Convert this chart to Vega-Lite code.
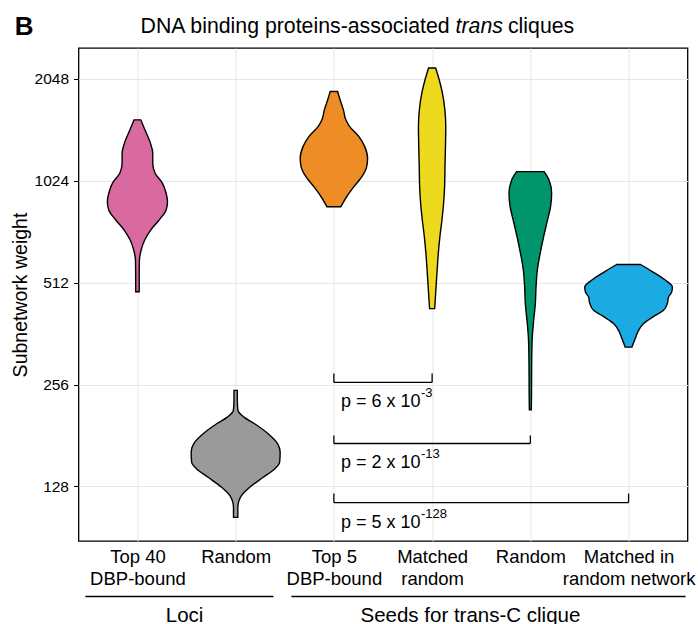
{
  "$schema": "https://vega.github.io/schema/vega-lite/v6.json",
  "padding": {"left": 8.5, "top": 12, "right": 0, "bottom": 0},
  "config": {
    "font": "Liberation Sans",
    "view": {"stroke": null},
    "axis": {"labelFont": "Liberation Sans", "titleFont": "Liberation Sans", "labelColor": "black", "titleColor": "black", "gridColor": "#E6E6E6", "gridWidth": 1}
  },
  "datasets": {
    "violins": [
      {"category": "Loci: Top 40 DBP-bound", "weight": 1549, "halfwidth": 0.034},
      {"category": "Loci: Top 40 DBP-bound", "weight": 1447, "halfwidth": 0.076},
      {"category": "Loci: Top 40 DBP-bound", "weight": 1322, "halfwidth": 0.132},
      {"category": "Loci: Top 40 DBP-bound", "weight": 1234, "halfwidth": 0.156},
      {"category": "Loci: Top 40 DBP-bound", "weight": 1153, "halfwidth": 0.156},
      {"category": "Loci: Top 40 DBP-bound", "weight": 1077, "halfwidth": 0.18},
      {"category": "Loci: Top 40 DBP-bound", "weight": 1006, "halfwidth": 0.255},
      {"category": "Loci: Top 40 DBP-bound", "weight": 940, "halfwidth": 0.292},
      {"category": "Loci: Top 40 DBP-bound", "weight": 888, "halfwidth": 0.306},
      {"category": "Loci: Top 40 DBP-bound", "weight": 839, "halfwidth": 0.292},
      {"category": "Loci: Top 40 DBP-bound", "weight": 784, "halfwidth": 0.221},
      {"category": "Loci: Top 40 DBP-bound", "weight": 732, "halfwidth": 0.135},
      {"category": "Loci: Top 40 DBP-bound", "weight": 684, "halfwidth": 0.074},
      {"category": "Loci: Top 40 DBP-bound", "weight": 639, "halfwidth": 0.038},
      {"category": "Loci: Top 40 DBP-bound", "weight": 597, "halfwidth": 0.02},
      {"category": "Loci: Top 40 DBP-bound", "weight": 532, "halfwidth": 0.018},
      {"category": "Loci: Top 40 DBP-bound", "weight": 481, "halfwidth": 0.018},

      {"category": "Loci: Random", "weight": 245.9, "halfwidth": 0.017},
      {"category": "Loci: Random", "weight": 229.8, "halfwidth": 0.017},
      {"category": "Loci: Random", "weight": 214.6, "halfwidth": 0.023},
      {"category": "Loci: Random", "weight": 205, "halfwidth": 0.085},
      {"category": "Loci: Random", "weight": 196, "halfwidth": 0.193},
      {"category": "Loci: Random", "weight": 183.1, "halfwidth": 0.331},
      {"category": "Loci: Random", "weight": 171, "halfwidth": 0.428},
      {"category": "Loci: Random", "weight": 161.6, "halfwidth": 0.453},
      {"category": "Loci: Random", "weight": 150.9, "halfwidth": 0.448},
      {"category": "Loci: Random", "weight": 144.2, "halfwidth": 0.397},
      {"category": "Loci: Random", "weight": 136.2, "halfwidth": 0.28},
      {"category": "Loci: Random", "weight": 127.2, "halfwidth": 0.143},
      {"category": "Loci: Random", "weight": 120.2, "halfwidth": 0.059},
      {"category": "Loci: Random", "weight": 116.2, "halfwidth": 0.034},
      {"category": "Loci: Random", "weight": 111, "halfwidth": 0.022},
      {"category": "Loci: Random", "weight": 103.7, "halfwidth": 0.022},

      {"category": "Seeds: Top 5 DBP-bound", "weight": 1878, "halfwidth": 0.038},
      {"category": "Seeds: Top 5 DBP-bound", "weight": 1775, "halfwidth": 0.063},
      {"category": "Seeds: Top 5 DBP-bound", "weight": 1658, "halfwidth": 0.097},
      {"category": "Seeds: Top 5 DBP-bound", "weight": 1549, "halfwidth": 0.122},
      {"category": "Seeds: Top 5 DBP-bound", "weight": 1479, "halfwidth": 0.161},
      {"category": "Seeds: Top 5 DBP-bound", "weight": 1382, "halfwidth": 0.255},
      {"category": "Seeds: Top 5 DBP-bound", "weight": 1291, "halfwidth": 0.314},
      {"category": "Seeds: Top 5 DBP-bound", "weight": 1193, "halfwidth": 0.343},
      {"category": "Seeds: Top 5 DBP-bound", "weight": 1127, "halfwidth": 0.334},
      {"category": "Seeds: Top 5 DBP-bound", "weight": 1052, "halfwidth": 0.285},
      {"category": "Seeds: Top 5 DBP-bound", "weight": 983, "halfwidth": 0.204},
      {"category": "Seeds: Top 5 DBP-bound", "weight": 918, "halfwidth": 0.13},
      {"category": "Seeds: Top 5 DBP-bound", "weight": 858, "halfwidth": 0.071},

      {"category": "Seeds: Matched random", "weight": 2203, "halfwidth": 0.036},
      {"category": "Seeds: Matched random", "weight": 2034, "halfwidth": 0.072},
      {"category": "Seeds: Matched random", "weight": 1858, "halfwidth": 0.105},
      {"category": "Seeds: Matched random", "weight": 1658, "halfwidth": 0.13},
      {"category": "Seeds: Matched random", "weight": 1479, "halfwidth": 0.139},
      {"category": "Seeds: Matched random", "weight": 1291, "halfwidth": 0.136},
      {"category": "Seeds: Matched random", "weight": 1127, "halfwidth": 0.131},
      {"category": "Seeds: Matched random", "weight": 983, "halfwidth": 0.127},
      {"category": "Seeds: Matched random", "weight": 878, "halfwidth": 0.117},
      {"category": "Seeds: Matched random", "weight": 784, "halfwidth": 0.1},
      {"category": "Seeds: Matched random", "weight": 699, "halfwidth": 0.079},
      {"category": "Seeds: Matched random", "weight": 624, "halfwidth": 0.063},
      {"category": "Seeds: Matched random", "weight": 557, "halfwidth": 0.051},
      {"category": "Seeds: Matched random", "weight": 486, "halfwidth": 0.038},
      {"category": "Seeds: Matched random", "weight": 429, "halfwidth": 0.026},

      {"category": "Seeds: Random", "weight": 1089, "halfwidth": 0.14},
      {"category": "Seeds: Random", "weight": 1029, "halfwidth": 0.19},
      {"category": "Seeds: Random", "weight": 940, "halfwidth": 0.217},
      {"category": "Seeds: Random", "weight": 858, "halfwidth": 0.206},
      {"category": "Seeds: Random", "weight": 784, "halfwidth": 0.175},
      {"category": "Seeds: Random", "weight": 699, "halfwidth": 0.135},
      {"category": "Seeds: Random", "weight": 624, "halfwidth": 0.1},
      {"category": "Seeds: Random", "weight": 557, "halfwidth": 0.071},
      {"category": "Seeds: Random", "weight": 497, "halfwidth": 0.058},
      {"category": "Seeds: Random", "weight": 444, "halfwidth": 0.051},
      {"category": "Seeds: Random", "weight": 396, "halfwidth": 0.034},
      {"category": "Seeds: Random", "weight": 354, "halfwidth": 0.02},
      {"category": "Seeds: Random", "weight": 316, "halfwidth": 0.015},
      {"category": "Seeds: Random", "weight": 276, "halfwidth": 0.013},
      {"category": "Seeds: Random", "weight": 240, "halfwidth": 0.012},
      {"category": "Seeds: Random", "weight": 215.6, "halfwidth": 0.01},

      {"category": "Seeds: Matched in random network", "weight": 579, "halfwidth": 0.122},
      {"category": "Seeds: Matched in random network", "weight": 551, "halfwidth": 0.246},
      {"category": "Seeds: Matched in random network", "weight": 520, "halfwidth": 0.377},
      {"category": "Seeds: Matched in random network", "weight": 497, "halfwidth": 0.446},
      {"category": "Seeds: Matched in random network", "weight": 481, "halfwidth": 0.44},
      {"category": "Seeds: Matched in random network", "weight": 464, "halfwidth": 0.407},
      {"category": "Seeds: Matched in random network", "weight": 444, "halfwidth": 0.395},
      {"category": "Seeds: Matched in random network", "weight": 424, "halfwidth": 0.356},
      {"category": "Seeds: Matched in random network", "weight": 405, "halfwidth": 0.246},
      {"category": "Seeds: Matched in random network", "weight": 387.5, "halfwidth": 0.153},
      {"category": "Seeds: Matched in random network", "weight": 370, "halfwidth": 0.102},
      {"category": "Seeds: Matched in random network", "weight": 350, "halfwidth": 0.068},
      {"category": "Seeds: Matched in random network", "weight": 330, "halfwidth": 0.034}
    ],
    "brackets": [
      {"from": "Seeds: Top 5 DBP-bound", "to": "Seeds: Matched random", "y": 259.7, "ytop": 276, "base": "p = 6 x 10", "exp": "-3"},
      {"from": "Seeds: Top 5 DBP-bound", "to": "Seeds: Random", "y": 171.4, "ytop": 181, "base": "p = 2 x 10", "exp": "-13"},
      {"from": "Seeds: Top 5 DBP-bound", "to": "Seeds: Matched in random network", "y": 114.6, "ytop": 121.9, "base": "p = 5 x 10", "exp": "-128"}
    ],
    "groups": [
      {"group": "Loci", "start": -0.53, "end": 1.385, "center": 0.48},
      {"group": "Seeds for trans-C clique", "start": 1.568, "end": 5.58, "center": 3.39}
    ]
  },
  "bounds": "flush",
  "spacing": 6,
  "vconcat": [
    {
      "width": 609,
      "height": 30,
      "data": {"values": [{}]},
      "layer": [
        {"mark": {"type": "text", "text": "B", "fontSize": 26, "fontWeight": "bold", "align": "left", "baseline": "middle", "color": "black"},
         "encoding": {"x": {"datum": -1.25, "type": "quantitative", "scale": {"domain": [-0.6, 5.6], "nice": false, "zero": false}, "axis": null}}},
        {"mark": {"type": "text", "text": "DNA binding proteins-associated", "fontSize": 21.3, "align": "right", "baseline": "middle", "color": "black"},
         "encoding": {"x": {"datum": 3.178, "type": "quantitative"}}},
        {"mark": {"type": "text", "text": "trans", "fontSize": 21.3, "fontStyle": "italic", "align": "left", "baseline": "middle", "color": "black"},
         "encoding": {"x": {"datum": 3.239, "type": "quantitative"}}},
        {"mark": {"type": "text", "text": "cliques", "fontSize": 21.3, "align": "left", "baseline": "middle", "color": "black"},
         "encoding": {"x": {"datum": 3.772, "type": "quantitative"}}}
      ]
    },
    {
      "bounds": "flush",
      "spacing": 55.5,
      "vconcat": [
        {
          "width": 609,
          "height": 493,
          "view": {"stroke": "black", "strokeWidth": 1.3},
          "layer": [
            {
              "data": {"name": "violins"},
              "transform": [
                {"calculate": "indexof(['Loci: Top 40 DBP-bound','Loci: Random','Seeds: Top 5 DBP-bound','Seeds: Matched random','Seeds: Random','Seeds: Matched in random network'], datum.category)", "as": "idx"},
                {"calculate": "datum.idx - datum.halfwidth", "as": "lo"},
                {"calculate": "datum.idx + datum.halfwidth", "as": "hi"}
              ],
              "mark": {"type": "area", "orient": "horizontal", "interpolate": "monotone", "stroke": "black", "strokeWidth": 1.4, "opacity": 1, "fillOpacity": 1},
              "encoding": {
                "y": {"field": "weight", "type": "quantitative",
                      "scale": {"type": "log", "base": 2, "domain": [88.3, 2525], "nice": false},
                      "axis": {"values": [128, 256, 512, 1024, 2048], "format": "d", "title": "Subnetwork weight", "titleFontSize": 19.5, "titleFontWeight": "normal", "titlePadding": 4, "labelFontSize": 15.5, "labelPadding": 5, "tickSize": 5, "tickColor": "black", "domain": false, "grid": true}},
                "x": {"field": "lo", "type": "quantitative", "stack": null,
                      "scale": {"domain": [-0.6, 5.6], "nice": false, "zero": false},
                      "axis": {"values": [0, 1, 2, 3, 4, 5], "title": null, "labelExpr": "[['Top 40','DBP-bound'],['Random'],['Top 5','DBP-bound'],['Matched','random'],['Random'],['Matched in','random network']][datum.value]", "ticks": false, "domain": false, "grid": true, "labelFontSize": 18.5, "labelLineHeight": 22, "labelPadding": 6, "labelOverlap": false, "labelFlush": false, "labelBound": false}},
                "x2": {"field": "hi"},
                "color": {"field": "category", "type": "nominal",
                          "scale": {"domain": ["Loci: Top 40 DBP-bound", "Loci: Random", "Seeds: Top 5 DBP-bound", "Seeds: Matched random", "Seeds: Random", "Seeds: Matched in random network"],
                                    "range": ["#D96AA0", "#9A9A9A", "#EE8C26", "#EDDA1E", "#00956A", "#1BAAE1"]},
                          "legend": null},
                "detail": {"field": "category"}
              }
            },
            {
              "data": {"name": "brackets"},
              "transform": [
                {"calculate": "indexof(['Loci: Top 40 DBP-bound','Loci: Random','Seeds: Top 5 DBP-bound','Seeds: Matched random','Seeds: Random','Seeds: Matched in random network'], datum.from)", "as": "fi"},
                {"calculate": "indexof(['Loci: Top 40 DBP-bound','Loci: Random','Seeds: Top 5 DBP-bound','Seeds: Matched random','Seeds: Random','Seeds: Matched in random network'], datum.to)", "as": "ti"}
              ],
              "layer": [
                {"mark": {"type": "rule", "color": "black", "strokeWidth": 1.3},
                 "encoding": {"x": {"field": "fi", "type": "quantitative"}, "x2": {"field": "ti"}, "y": {"field": "y", "type": "quantitative"}}},
                {"mark": {"type": "rule", "color": "black", "strokeWidth": 1.3},
                 "encoding": {"x": {"field": "fi", "type": "quantitative"}, "y": {"field": "y", "type": "quantitative"}, "y2": {"field": "ytop"}}},
                {"mark": {"type": "rule", "color": "black", "strokeWidth": 1.3},
                 "encoding": {"x": {"field": "ti", "type": "quantitative"}, "y": {"field": "y", "type": "quantitative"}, "y2": {"field": "ytop"}}},
                {"mark": {"type": "text", "align": "left", "baseline": "alphabetic", "dx": 7, "dy": 25, "fontSize": 18, "color": "black"},
                 "encoding": {"x": {"field": "fi", "type": "quantitative"}, "y": {"field": "y", "type": "quantitative"}, "text": {"field": "base"}}},
                {"mark": {"type": "text", "align": "left", "baseline": "alphabetic", "dx": 87, "dy": 15, "fontSize": 13, "color": "black"},
                 "encoding": {"x": {"field": "fi", "type": "quantitative"}, "y": {"field": "y", "type": "quantitative"}, "text": {"field": "exp"}}}
              ]
            }
          ]
        },
        {
          "width": 609,
          "height": 25,
          "data": {"name": "groups"},
          "layer": [
            {"mark": {"type": "rule", "color": "black", "strokeWidth": 1.3},
             "encoding": {"x": {"field": "start", "type": "quantitative", "scale": {"domain": [-0.6, 5.6], "nice": false, "zero": false}, "axis": null},
                          "x2": {"field": "end"},
                          "y": {"datum": 1, "type": "quantitative", "scale": {"domain": [0, 1], "nice": false}, "axis": null}}},
            {"mark": {"type": "text", "fontSize": 20.5, "baseline": "alphabetic", "align": "center", "color": "black"},
             "encoding": {"x": {"field": "center", "type": "quantitative"},
                          "y": {"datum": 0, "type": "quantitative"},
                          "text": {"field": "group"}}}
          ]
        }
      ]
    }
  ]
}
